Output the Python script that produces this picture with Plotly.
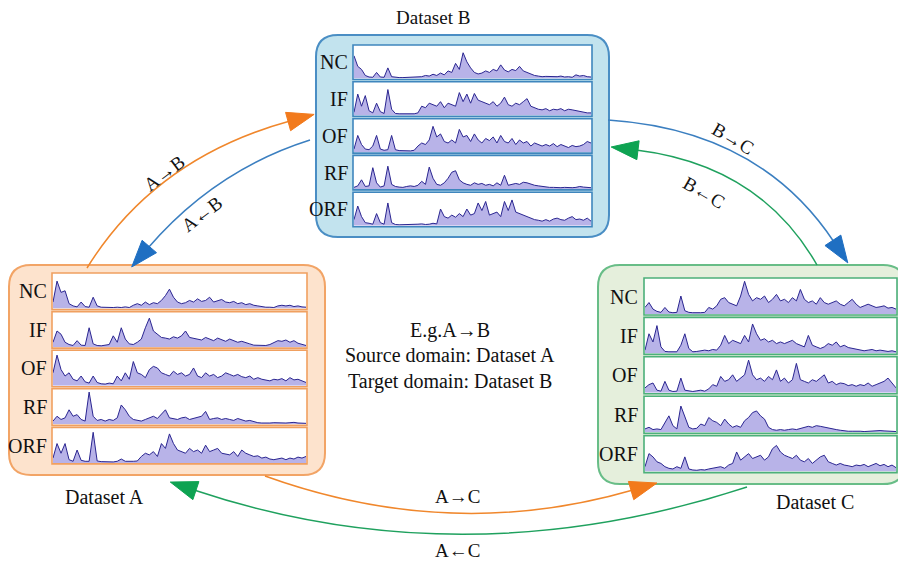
import plotly.graph_objects as go
import math

W, H = 906, 565          # browser window
OX, OY = 8, 8            # default page body margin
FW, FH = W - OX, H - OY  # figure size so the picture fills the window

# ---------------- data (relative amplitudes, % of panel height) ----------------
fault_labels = ["NC", "IF", "OF", "RF", "ORF"]
dataset_titles = ["Dataset A", "Dataset B", "Dataset C"]

A_NC = [20,85,50,55,15,8,5,20,6,4,35,8,4,3,4,3,4,3,5,3,10,15,10,20,12,18,15,25,40,60,35,20,15,18,25,20,30,22,25,35,20,25,28,20,18,22,15,18,12,15,10,8,5,4,4,3,8,10,8,10,6,8,5,4]
A_IF = [15,50,40,15,8,5,20,6,5,60,10,5,4,5,8,35,15,60,25,10,8,15,25,60,90,50,40,30,28,25,32,28,35,50,30,28,25,22,30,25,20,28,22,18,25,20,15,18,15,10,6,5,4,5,8,15,20,18,22,15,20,12,8,5]
A_OF = [40,95,50,30,40,20,15,30,12,8,30,10,6,5,8,6,30,15,40,20,75,40,35,25,50,60,55,40,35,30,45,35,40,30,35,55,30,25,40,30,35,25,30,40,35,30,35,28,25,30,20,25,20,18,15,20,18,22,15,25,18,20,15,10]
A_RF = [10,25,15,20,45,25,30,15,10,100,25,12,15,10,15,12,20,60,45,25,15,12,10,15,20,25,18,30,45,20,18,15,20,22,15,18,20,25,40,15,18,20,15,18,15,12,18,15,10,12,8,5,4,3,4,5,4,3,4,5,6,4,4,3]
A_ORF = [15,60,30,60,10,5,40,8,5,5,95,6,4,3,4,3,5,12,5,4,5,6,20,30,25,35,20,60,45,90,60,40,35,30,45,35,40,30,55,35,40,45,30,28,25,35,20,40,30,25,20,22,15,18,12,10,12,15,10,15,12,18,15,20]

B_NC = [75,40,30,10,5,4,20,5,4,35,6,4,3,3,4,3,4,5,6,10,8,14,10,18,12,25,20,50,30,85,55,35,20,15,18,25,20,30,25,45,28,22,30,26,40,25,20,15,10,8,6,7,6,5,6,8,5,6,4,12,8,10,6,5]
B_IF = [10,70,30,65,15,8,40,12,6,85,20,6,5,5,4,6,5,8,30,25,40,35,30,45,25,40,35,30,75,45,70,40,72,50,45,40,35,45,30,40,60,35,30,40,35,45,55,30,25,20,18,22,15,20,18,22,15,20,18,15,12,10,8,8]
B_OF = [10,55,25,10,8,20,55,10,6,8,55,8,5,4,5,4,6,20,30,25,40,85,50,60,35,30,40,30,75,50,55,35,60,40,30,45,38,50,30,55,35,30,45,25,40,30,35,20,30,25,20,25,20,28,18,25,20,15,22,18,20,25,35,30]
B_RF = [5,10,30,8,10,70,20,6,10,75,15,8,6,5,8,10,8,12,25,15,72,35,15,12,20,35,55,60,30,20,15,12,20,15,18,12,15,10,20,12,45,12,15,18,15,22,20,15,12,10,8,5,5,5,4,4,5,4,4,5,8,6,5,4]
B_ORF = [20,65,30,10,8,5,40,10,5,75,10,4,3,3,4,3,4,5,6,4,5,8,6,55,30,25,35,28,40,30,55,35,40,75,50,80,35,40,45,30,80,50,85,45,40,35,30,25,20,18,15,20,15,22,25,20,18,25,30,20,22,18,25,15]

C_NC = [20,35,15,8,5,20,6,4,5,55,10,5,4,3,4,5,20,15,25,45,50,35,30,25,55,100,60,40,50,45,55,35,45,60,40,45,35,50,40,75,45,35,40,30,50,35,30,35,40,30,25,35,45,30,20,25,30,25,20,22,25,18,20,15]
C_IF = [10,60,35,85,20,6,5,4,5,25,60,15,5,6,8,10,8,12,10,25,55,30,40,35,30,55,35,90,60,40,45,35,40,30,35,30,35,40,30,25,20,55,25,20,15,20,30,25,35,20,25,18,15,12,10,8,10,12,8,10,8,6,8,5]
C_OF = [15,25,30,8,5,35,8,4,5,45,8,5,4,6,8,5,12,25,20,50,35,40,55,35,45,55,100,55,40,45,35,50,40,70,35,45,30,40,90,40,35,30,40,35,45,55,30,35,25,30,28,22,25,20,25,22,30,20,25,30,35,45,30,15]
C_RF = [10,15,8,10,8,30,50,20,10,80,50,15,10,12,25,20,45,35,30,20,40,25,15,20,15,35,45,60,65,50,40,15,8,6,8,6,8,10,8,12,15,18,15,20,18,15,12,10,8,6,4,3,3,4,3,2,3,5,6,5,4,3,3,2]
C_ORF = [15,55,45,30,25,15,10,8,15,10,45,8,5,4,6,5,8,10,12,15,10,20,25,60,35,45,55,40,45,50,35,45,70,80,60,50,45,40,50,35,30,40,25,35,45,50,30,25,20,25,20,18,15,20,18,22,15,20,25,18,22,15,20,12]

signals = {
    "A": [A_NC, A_IF, A_OF, A_RF, A_ORF],
    "B": [B_NC, B_IF, B_OF, B_RF, B_ORF],
    "C": [C_NC, C_IF, C_OF, C_RF, C_ORF],
}

# ---------------- geometry helpers (window pixel -> paper) ----------------
def X(px):
    return (px - OX) / FW

def Y(py):
    return 1 - (py - OY) / FH

def P(px, py):
    return f"{X(px):.5f},{Y(py):.5f}"

def rrect(x0, y0, x1, y1, r):
    return (f"M{P(x0+r,y0)} L{P(x1-r,y0)} Q{P(x1,y0)} {P(x1,y0+r)} "
            f"L{P(x1,y1-r)} Q{P(x1,y1)} {P(x1-r,y1)} L{P(x0+r,y1)} "
            f"Q{P(x0,y1)} {P(x0,y1-r)} L{P(x0,y0+r)} Q{P(x0,y0)} {P(x0+r,y0)} Z")

SERIF = "Liberation Serif, Times New Roman, serif"

boxes = {
    "A": dict(rect=(9, 265, 325, 475), px0=52, px1=307, top=273, pitch=38.6, h=36.5, lab=49,
              fill="#fde3cd", edge="#f2a466", pedge="#f0a060"),
    "B": dict(rect=(316, 35, 609, 237), px0=353, px1=592, top=45, pitch=36.8, h=34.5, lab=350,
              fill="#c2e3ee", edge="#4a8ec4", pedge="#3f86bd"),
    "C": dict(rect=(598, 265, 905, 484), px0=644, px1=897, top=278, pitch=39.4, h=37, lab=640,
              fill="#e5efdc", edge="#68bd87", pedge="#4cb07a"),
}

shapes = []
annotations = []
fig = go.Figure()
layout_axes = {}

for key, b in boxes.items():
    x0, y0, x1, y1 = b["rect"]
    shapes.append(dict(type="path", xref="paper", yref="paper", layer="below",
                       path=rrect(x0, y0, x1, y1, 22),
                       fillcolor=b["fill"], line=dict(color=b["edge"], width=2)))

k = 0
for key, b in boxes.items():
    for i, lab in enumerate(fault_labels):
        k += 1
        top = b["top"] + i * b["pitch"]
        bot = top + b["h"]
        shapes.append(dict(type="rect", xref="paper", yref="paper", layer="below",
                           x0=X(b["px0"]), x1=X(b["px1"]), y0=Y(bot), y1=Y(top),
                           fillcolor="white", line=dict(width=0)))
        shapes.append(dict(type="rect", xref="paper", yref="paper", layer="above",
                           x0=X(b["px0"]), x1=X(b["px1"]), y0=Y(bot), y1=Y(top),
                           fillcolor="rgba(0,0,0,0)", line=dict(color=b["pedge"], width=1.6)))
        vals = signals[key][i]
        n = len(vals)
        sfx = "" if k == 1 else str(k)
        fig.add_trace(go.Scatter(
            x=list(range(n)), y=[v / 100 for v in vals], mode="lines",
            line=dict(color="#2a2590", width=1), fill="tozeroy",
            fillcolor="rgba(85,75,200,0.42)", hoverinfo="skip", showlegend=False,
            xaxis="x" + sfx, yaxis="y" + sfx))
        layout_axes["xaxis" + sfx] = dict(domain=[X(b["px0"] + 1), X(b["px1"] - 1)],
                                          range=[0, n - 1], visible=False, fixedrange=True,
                                          anchor="y" + sfx)
        layout_axes["yaxis" + sfx] = dict(domain=[Y(bot - 1), Y(top + 2)],
                                          range=[0, 1.04], visible=False, fixedrange=True,
                                          anchor="x" + sfx)
        annotations.append(dict(xref="paper", yref="paper", x=X(b["lab"]), y=Y((top + bot) / 2),
                                text=lab, showarrow=False, xanchor="right", yanchor="middle",
                                font=dict(family=SERIF, size=20, color="#111")))

# ---------------- arrows ----------------
ORANGE = "#f0872c"
BLUE = "#3b7fc0"
GREEN = "#1fa15e"
arrows = [
    ((87, 268), (155, 158), (290, 121), ORANGE, "#f27a1c"),
    ((310, 140), (215, 170), (148, 248), BLUE, "#1f6fc2"),
    ((608, 120), (760, 130), (834, 242), BLUE, "#1f6fc2"),
    ((817, 265), (760, 165), (636, 150), GREEN, "#0ea352"),
    ((265, 476), (451, 543), (633, 490), ORANGE, "#f27a1c"),
    ((747, 487), (463, 580), (194, 490), GREEN, "#0ea352"),
]
for s, c, e, col, hcol in arrows:
    shapes.append(dict(type="path", xref="paper", yref="paper", layer="above",
                       path=f"M{P(*s)} Q{P(*c)} {P(*e)}",
                       line=dict(color=col, width=1.5)))
    dx, dy = e[0] - c[0], e[1] - c[1]
    L = math.hypot(dx, dy)
    ux, uy = dx / L, dy / L
    tip = (e[0] + 25 * ux, e[1] + 25 * uy)
    base = (e[0] - 2 * ux, e[1] - 2 * uy)
    hw = 9.5
    b1 = (base[0] - uy * hw, base[1] + ux * hw)
    b2 = (base[0] + uy * hw, base[1] - ux * hw)
    shapes.append(dict(type="path", xref="paper", yref="paper", layer="above",
                       path=f"M{P(*tip)} L{P(*b1)} L{P(*b2)} Z",
                       fillcolor=hcol, line=dict(color=hcol, width=1)))

# ---------------- texts ----------------
def txt(x, y, s, size=20, angle=0):
    annotations.append(dict(xref="paper", yref="paper", x=X(x), y=Y(y), text=s,
                            showarrow=False, xanchor="center", yanchor="middle",
                            textangle=angle, font=dict(family=SERIF, size=size, color="#111")))

txt(433, 18, dataset_titles[1], 19)
txt(104, 497, dataset_titles[0], 20)
txt(815, 502, dataset_titles[2], 20)
txt(450, 330, "E.g.A→B", 20)
txt(450, 355, "Source domain: Dataset A", 20)
txt(450, 381, "Target domain: Dataset B", 20)
txt(164, 174, "A→B", 19, -37)
txt(201, 214, "A←B", 19, -37)
txt(733, 138, "B→C", 19, 30)
txt(704, 192, "B←C", 19, 30)
txt(457, 497, "A→C", 19)
txt(457, 550, "A←C", 19)

fig.update_layout(
    width=FW, height=FH, margin=dict(l=0, r=0, t=0, b=0),
    paper_bgcolor="white", plot_bgcolor="rgba(0,0,0,0)",
    showlegend=False, shapes=shapes, annotations=annotations,
    **layout_axes,
)
fig.write_html("out.html")
